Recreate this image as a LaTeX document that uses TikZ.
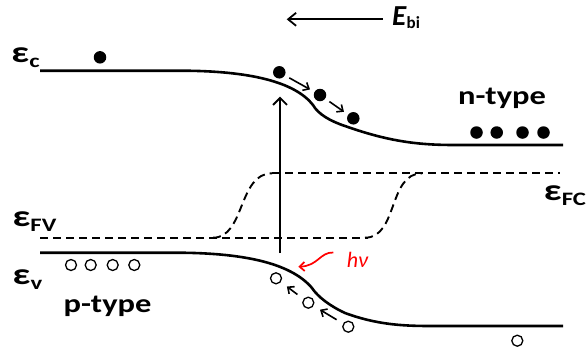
\documentclass[tikz,border=0pt]{standalone}
\usepackage{fontspec}
\setmainfont{Carlito}
\usetikzlibrary{arrows.meta}
\begin{document}
\begin{tikzpicture}[x=1pt,y=-1pt,
 band/.style={line width=2.6pt},
 fermi/.style={line width=1.9pt, dash pattern=on 8pt off 5pt},
 elec/.style={circle, fill=black, inner sep=0pt, minimum size=12.5pt},
 hole/.style={circle, draw=black, line width=1.3pt, inner sep=0pt, minimum size=11pt},
 emove/.style={line width=1.6pt, -{Straight Barb[length=5pt,width=9pt]}, shorten <=5pt, shorten >=5pt},
 hmove/.style={line width=1.6pt, -{Straight Barb[length=5pt,width=9pt]}, shorten <=7.5pt, shorten >=7.5pt},
 lab/.style={inner sep=0pt, font=\bfseries\fontsize{26}{26}\selectfont, xscale=1.25},
 eps/.style={inner sep=0pt, font=\bfseries, xscale=1.3},
]
\useasboundingbox (0,0) rectangle (586,354);
% bands
\draw[band] (40,70.7) -- (180,70.7) .. controls (250,70.7) and (295,82) .. (313,105)
  .. controls (318,114) and (330,121) .. (345,126) .. controls (390,142) and (420,145) .. (455,145) -- (563,145);
\draw[band] (40,252.7) -- (175,252.7) .. controls (240,252.7) and (290,262) .. (312,288)
  .. controls (318,297) and (330,306) .. (345,313) .. controls (375,324) and (400,326) .. (430,326) -- (563,326);
% quasi Fermi levels
\draw[fermi] (40,237.7) -- (368,237.7);
\draw[fermi] (272,173.3) -- (560,173.3);
\draw[fermi] (213,237.7) .. controls (245,237.7) and (238,173.3) .. (272,173.3);
\draw[fermi] (365,237.7) .. controls (398,237.7) and (388,173.3) .. (422,173.3);
% electrons
\node[elec] (e1) at (100,57.3) {};
\node[elec] (e2) at (279.3,72.3) {};
\node[elec] (e3) at (320,95) {};
\node[elec] (e4) at (353.3,118.3) {};
\node[elec] (n1) at (476.5,132.5) {};
\node[elec] (n2) at (496.7,132.5) {};
\node[elec] (n3) at (522.5,132.5) {};
\node[elec] (n4) at (543.5,132.5) {};
% holes
\node[hole] (p1) at (71,265) {};
\node[hole] (p2) at (90.7,265) {};
\node[hole] (p3) at (112.7,265) {};
\node[hole] (p4) at (134.3,265) {};
\node[hole] (h1) at (276,278.3) {};
\node[hole] (h2) at (308.3,302.7) {};
\node[hole] (h3) at (348.3,326.7) {};
\node[hole] (h4) at (517.3,340.7) {};
% carrier motion
\draw[emove] (e2) -- (e3);
\draw[emove] (e3) -- (e4);
\draw[hmove] (h2) -- (h1);
\draw[hmove] (h3) -- (h2);
% excitation
\coordinate (vbot) at (280,253);
\coordinate (vtop) at (280,96.7);
\draw[line width=1.8pt, -{Straight Barb[length=7pt,width=14pt]}] (vbot) -- (vtop);
% photon
\node[red, inner sep=0pt, font=\itshape\fontsize{22}{22}\selectfont] (hnu) at (357.5,259.5) {hν};
\coordinate (rs) at (333.3,252.5);
\coordinate (rt) at (298.3,266.7);
\draw[red, line width=1.7pt, -{Straight Barb[length=5pt,width=9pt]}] (rs) .. controls (320,252) and (318,266) .. (rt);
% built-in field
\node[inner sep=0pt, font=\bfseries\fontsize{29}{29}\selectfont] (ebi) at (406,18) {\textit{E}\raisebox{-3pt}{\fontsize{17}{17}\selectfont bi}};
\coordinate (etip) at (286.7,19.3);
\draw[line width=1.8pt, -{Straight Barb[length=8pt,width=13pt]}, shorten <=9pt] (ebi.west |- etip) -- (etip);
% labels
\node[eps] (lc) at (25.5,58) {{\fontsize{30}{30}\selectfont ε}\raisebox{-5pt}{\fontsize{19}{19}\selectfont c}};
\node[eps] (lfv) at (34.5,222) {{\fontsize{30}{30}\selectfont ε}\raisebox{-5pt}{\fontsize{19}{19}\selectfont FV}};
\node[eps] (lv) at (27.5,280) {{\fontsize{30}{30}\selectfont ε}\raisebox{-5pt}{\fontsize{19}{19}\selectfont v}};
\node[eps] (lfc) at (565,195.5) {{\fontsize{30}{30}\selectfont ε}\raisebox{-5pt}{\fontsize{19}{19}\selectfont FC}};
\node[lab] (ntype) at (502,98) {n-type};
\node[lab] (ptype) at (107.5,306) {p-type};
\end{tikzpicture}
\end{document}
